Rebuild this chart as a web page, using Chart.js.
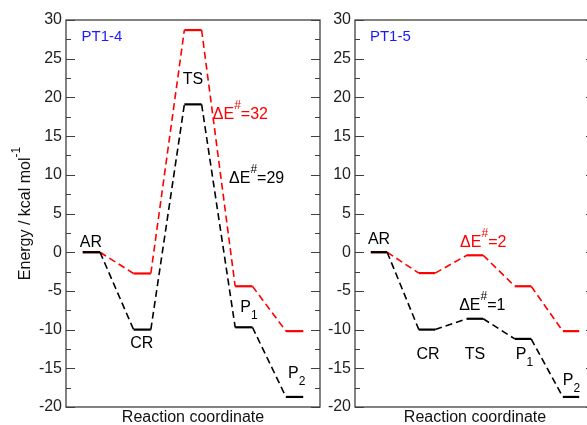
<!DOCTYPE html>
<html>
<head>
<meta charset="utf-8">
<script src="https://cdn.jsdelivr.net/npm/chart.js@4.4.1/dist/chart.umd.min.js"></script>
<style>
  html, body { margin: 0; padding: 0; background: #fff; overflow: hidden; width: 587px; height: 425px; }
  canvas { position: absolute; top: 0; }
  #pt14 { left: 0; }
  #pt15 { left: 320px; }
</style>
</head>
<body>
<canvas id="pt14" width="340" height="425"></canvas>
<canvas id="pt15" width="300" height="425"></canvas>
<script>
// energy levels (kcal/mol) along the reaction coordinate
const stages = ["AR", "CR", "TS", "P1", "P2"];
const pt14Red = [0, -2.75, 28.7, -4.4, -10.2];
const pt14Black = [0, -10.0, 19.1, -9.7, -18.7];
const pt15Red = [0, -2.7, -0.4, -4.4, -10.2];
const pt15Black = [0, -10.0, -8.6, -11.2, -18.7];
const yTicks = [-20, -15, -10, -5, 0, 5, 10, 15, 20, 25, 30];

const FONT = '"Liberation Sans", Arial, sans-serif';
const RED = "#ff0000";
const BLUE = "#1a1aff";

// text annotations, x in stage units, y in kcal/mol (baseline)
const pt14Labels = [
  { x: 0.305, y: 27.3, parts: [["PT1-4"]], color: BLUE, size: 15 },
  { x: 0.49, y: 0.65, parts: [["AR"]], align: "center" },
  { x: 1.49, y: -12.4, parts: [["CR"]], align: "center" },
  { x: 2.5, y: 21.7, parts: [["TS"]], align: "center" },
  { x: 2.89, y: 17.2, parts: [["ΔE"], ["#", "sup"], ["=32"]], color: RED },
  { x: 3.21, y: 9.0, parts: [["ΔE"], ["#", "sup"], ["=29"]] },
  { x: 3.43, y: -7.75, parts: [["P"], ["1", "sub"]] },
  { x: 4.37, y: -16.3, parts: [["P"], ["2", "sub"]] }
];
const pt15Labels = [
  { x: 0.31, y: 27.3, parts: [["PT1-5"]], color: BLUE, size: 15 },
  { x: 0.5, y: 1.1, parts: [["AR"]], align: "center" },
  { x: 2.19, y: 0.7, parts: [["ΔE"], ["#", "sup"], ["=2"]], color: RED },
  { x: 2.17, y: -7.5, parts: [["ΔE"], ["#", "sup"], ["=1"]] },
  { x: 1.52, y: -13.8, parts: [["CR"]], align: "center" },
  { x: 2.5, y: -13.8, parts: [["TS"]], align: "center" },
  { x: 3.35, y: -13.8, parts: [["P"], ["1", "sub"]] },
  { x: 4.33, y: -17.2, parts: [["P"], ["2", "sub"]] }
];

// each level is a short flat bar, joined to the next by a dashed line
function levelPoints(values) {
  const pts = [];
  values.forEach((v, i) => {
    pts.push({ x: i + 0.33, y: v });
    pts.push({ x: i + 0.67, y: v });
  });
  return pts;
}

function drawRich(ctx, parts, x, y, size, align) {
  const small = Math.round(size * 0.72);
  let w = 0;
  parts.forEach(p => {
    ctx.font = (p[1] ? small : size) + "px " + FONT;
    w += ctx.measureText(p[0]).width;
  });
  let cx = align === "center" ? x - w / 2 : x;
  ctx.textAlign = "left";
  ctx.textBaseline = "alphabetic";
  parts.forEach(p => {
    ctx.font = (p[1] ? small : size) + "px " + FONT;
    let dy = 0;
    if (p[1] === "sup") dy = -size * 0.62;
    if (p[1] === "sub") dy = size * 0.42;
    ctx.fillText(p[0], cx, y + dy);
    cx += ctx.measureText(p[0]).width;
  });
}

function panelPlugin(labels, withTitle) {
  return {
    id: "panel",
    afterDraw(chart) {
      const { ctx, chartArea: a, scales: { x, y } } = chart;
      ctx.save();
      // frame with inward ticks
      ctx.strokeStyle = "#404040";
      ctx.lineWidth = 1.3;
      ctx.strokeRect(a.left, a.top, a.right - a.left, a.bottom - a.top);
      ctx.lineWidth = 1;
      for (let v = yTicks[0]; v <= yTicks[yTicks.length - 1]; v += 2.5) {
        const py = Math.round(y.getPixelForValue(v)) + 0.5;
        const len = v % 5 === 0 ? 9 : 5;
        ctx.beginPath();
        ctx.moveTo(a.left, py); ctx.lineTo(a.left + len, py);
        ctx.moveTo(a.right, py); ctx.lineTo(a.right - len, py);
        ctx.stroke();
      }
      // annotations
      labels.forEach(l => {
        ctx.fillStyle = l.color || "#000";
        drawRich(ctx, l.parts, x.getPixelForValue(l.x), y.getPixelForValue(l.y), l.size || 16, l.align);
      });
      // axis titles
      ctx.fillStyle = "#111";
      drawRich(ctx, [["Reaction coordinate"]], (a.left + a.right) / 2, a.bottom + 15, 16, "center");
      if (withTitle) {
        ctx.translate(30, (a.top + a.bottom) / 2);
        ctx.rotate(-Math.PI / 2);
        drawRich(ctx, [["Energy / kcal mol"], ["-1", "sup"]], 0, 0, 16, "center");
      }
      ctx.restore();
    }
  };
}

function makeChart(id, red, black, labels, yWidth, padRight, withTitle) {
  const lineSet = (values, color) => ({
    data: levelPoints(values),
    borderColor: color,
    borderWidth: 2,
    pointRadius: 0,
    tension: 0,
    segment: {
      borderDash: c => (c.p0DataIndex % 2 === 1 ? [7, 4] : undefined),
      borderWidth: c => (c.p0DataIndex % 2 === 1 ? 1.6 : 2.2)
    }
  });
  return new Chart(document.getElementById(id), {
    type: "line",
    data: { datasets: [lineSet(black, "#000"), lineSet(red, RED)] },
    options: {
      responsive: false,
      animation: false,
      layout: { padding: { left: 0, right: padRight, top: 20, bottom: 18 } },
      plugins: { legend: { display: false }, tooltip: { enabled: false } },
      scales: {
        x: { type: "linear", min: 0, max: stages.length, display: false },
        y: {
          min: yTicks[0],
          max: yTicks[yTicks.length - 1],
          afterBuildTicks: s => { s.ticks = yTicks.map(v => ({ value: v })); },
          afterFit: s => { s.width = yWidth; },
          grid: { display: false, drawTicks: false },
          border: { display: false },
          ticks: { padding: 4, color: "#222", font: { family: FONT, size: 16 } }
        }
      }
    },
    plugins: [panelPlugin(labels, withTitle)]
  });
}

makeChart("pt14", pt14Red, pt14Black, pt14Labels, 66, 20, true);
makeChart("pt15", pt15Red, pt15Black, pt15Labels, 35, 25, false);
</script>
</body>
</html>
